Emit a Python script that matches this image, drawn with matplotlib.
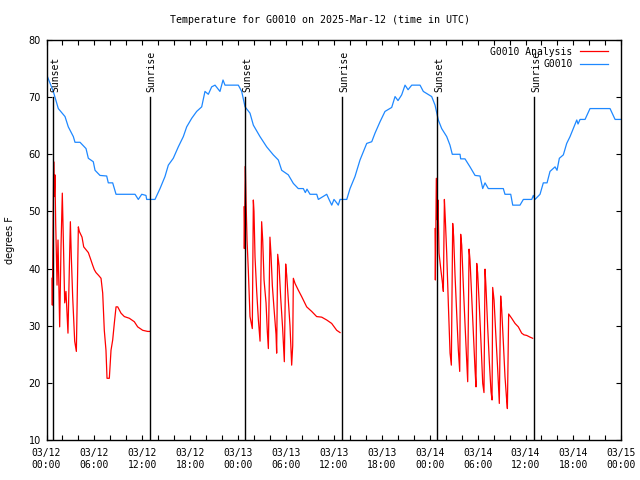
import matplotlib
matplotlib.use("Agg")
import matplotlib.pyplot as plt
import numpy as np

# ---- data (hours since 03/12 00:00 UTC) ----
obs_hours = [0.0, 0.85, 1.48, 2.32, 2.73, 3.36, 3.57, 4.20, 4.95, 5.24, 5.86, 6.08, 6.70, 7.54, 7.74,
             8.29, 8.71, 11.09, 11.50, 11.93, 12.46, 12.55, 13.59, 14.22, 14.84, 15.26, 15.88, 16.51,
             17.14, 17.56, 18.19, 18.81, 19.44, 19.85, 20.27, 20.69, 21.11, 21.73, 22.11, 22.36, 24.03,
             24.45, 24.87, 25.49, 25.91, 26.74, 27.58, 28.41, 29.04, 29.46, 30.29, 30.92, 31.54, 32.17,
             32.42, 32.63, 33.01, 33.85, 34.05, 35.10, 35.39, 35.73, 36.01, 36.35, 36.55, 36.77, 37.61,
             38.02, 38.64, 39.27, 40.11, 40.74, 41.15, 41.78, 42.40, 43.24, 43.66, 44.03, 44.49, 44.91,
             45.29, 45.75, 46.79, 47.20, 48.25, 48.67, 49.08, 49.50, 50.13, 50.54, 50.83, 51.80, 51.88,
             52.42, 53.05, 53.68, 54.30, 54.64, 54.93, 55.34, 57.22, 57.43, 58.15, 58.40, 59.31, 59.73,
             60.78, 60.98, 61.19, 61.82, 62.23, 62.70, 63.07, 63.70, 63.95, 64.24, 64.74, 65.16, 65.58,
             65.99, 66.42, 66.58, 66.83, 67.46, 68.08, 70.59, 71.22, 72.0]
obs_temp = [74.0, 71.0, 68.0, 66.6, 64.8, 63.1, 62.1, 62.1, 61.0, 59.3, 58.7, 57.2, 56.3, 56.2, 55.0,
            55.0, 53.0, 53.0, 52.1, 53.0, 52.8, 52.1, 52.1, 54.0, 56.1, 58.1, 59.3, 61.3,
            63.1, 64.8, 66.3, 67.5, 68.3, 71.0, 70.5, 71.8, 72.1, 71.0, 73.0, 72.1, 72.1,
            71.0, 68.3, 67.2, 65.1, 63.1, 61.3, 59.9, 59.0, 57.2, 56.4, 54.9, 54.0, 54.0,
            53.3, 53.9, 53.0, 53.0, 52.1, 53.0, 52.1, 51.1, 52.1, 51.5, 51.1, 52.1, 52.1,
            54.0, 56.1, 59.0, 61.9, 62.2, 63.7, 65.7, 67.5, 68.2, 70.1, 69.4, 70.4, 72.1,
            71.3, 72.1, 72.1, 71.0, 70.1, 68.6, 66.0, 64.5, 63.1, 61.6, 60.0, 60.0, 59.2,
            59.2, 57.8, 56.3, 56.2, 54.0, 55.0, 54.0, 54.0, 53.0, 53.0, 51.1, 51.1, 52.1,
            52.1, 52.8, 52.1, 53.0, 55.0, 55.0, 57.0, 57.8, 57.2, 59.3, 59.9, 61.9, 63.1,
            64.5, 66.0, 65.3, 66.1, 66.1, 68.0, 68.0, 66.1, 66.1]

an1_hours = [0.69, 0.73, 0.90, 0.98, 1.06, 1.15, 1.32, 1.44, 1.65, 1.82, 1.98, 2.11, 2.28, 2.44, 2.69,
             2.86, 2.99, 3.11, 3.28, 3.53, 3.74, 3.99, 4.11, 4.45, 4.66, 4.95, 5.24, 5.49, 5.78, 5.99,
             6.20, 6.53, 6.83, 7.04, 7.24, 7.45, 7.58, 7.87, 8.08, 8.29, 8.50, 8.71, 8.92, 9.33, 9.75,
             10.38, 11.00, 11.42, 12.05, 12.67, 12.97]
an1_temp = [38.3, 33.6, 58.7, 52.6, 56.4, 48.0, 37.1, 45.0, 29.8, 44.0, 53.2, 45.0, 34.0, 36.0, 28.7,
            40.0, 48.2, 42.0, 35.0, 27.3, 25.5, 47.3, 46.5, 45.5, 43.8, 43.3, 42.8, 41.8, 40.6, 39.8,
            39.3, 38.8, 38.3, 35.7, 29.2, 25.7, 20.8, 20.8, 25.7, 27.5, 30.5, 33.3, 33.3, 32.2, 31.6,
            31.3, 30.7, 29.8, 29.2, 29.0, 29.0]

an2_hours = [24.74, 24.78, 24.91, 24.99, 25.12, 25.28, 25.49, 25.78, 25.91, 25.99, 26.12, 26.33, 26.54,
             26.75, 26.95, 27.08, 27.25, 27.50, 27.66, 27.79, 27.99, 28.12, 28.29, 28.50, 28.75, 28.83,
             28.96, 29.13, 29.33, 29.58, 29.79, 29.96, 30.09, 30.29, 30.50, 30.71, 30.84, 30.92, 31.13,
             31.55, 31.96, 32.59, 33.22, 33.84, 34.47, 35.10, 35.72, 36.35, 36.77]
an2_temp = [50.8, 43.5, 57.9, 52.0, 45.0, 39.7, 31.6, 29.5, 52.0, 50.0, 42.0, 36.0, 31.0,
            27.3, 48.2, 45.0, 38.0, 34.0, 29.0, 26.0, 45.5, 42.5, 37.0, 33.0, 28.5, 25.2,
            42.5, 40.5, 35.0, 29.5, 23.7, 40.8, 38.8, 34.5, 30.0, 23.1, 26.5, 38.3, 37.4,
            36.2, 35.1, 33.3, 32.5, 31.6, 31.5, 31.0, 30.4, 29.2, 28.8]

an3_hours = [48.67, 48.71, 48.83, 48.96, 49.04, 49.17, 49.38, 49.58, 49.71, 49.84, 49.96, 50.13, 50.34,
             50.55, 50.71, 50.88, 51.00, 51.17, 51.38, 51.59, 51.76, 51.88, 52.01, 52.22, 52.42, 52.63,
             52.76, 52.93, 53.05, 53.26, 53.47, 53.68, 53.80, 53.89, 54.01, 54.22, 54.43, 54.64, 54.80,
             54.93, 55.05, 55.26, 55.47, 55.68, 55.81, 55.89, 56.06, 56.27, 56.52, 56.72, 56.89, 57.02,
             57.23, 57.43, 57.64, 57.73, 57.81, 57.89, 58.27, 58.69, 59.10, 59.52, 59.81, 60.15, 60.57,
             60.90]
an3_temp = [47.0, 38.0, 55.8, 48.5, 52.0, 42.7, 40.0, 37.7, 36.0, 52.1, 48.5, 42.7, 33.6,
            25.2, 23.1, 47.9, 45.6, 38.9, 32.2, 25.7, 22.0, 46.0, 44.1, 36.8, 30.4, 24.0,
            20.2, 43.4, 41.5, 35.1, 28.7, 22.25, 19.3, 40.9, 39.2, 33.3, 26.9, 19.9, 18.3,
            39.9, 36.8, 29.8, 23.7, 18.45, 17.0, 36.7, 34.5, 28.7, 22.25, 16.4, 35.2, 32.75,
            26.9, 21.1, 17.0, 15.5, 23.7, 32.05, 31.3, 30.4, 29.8, 28.7, 28.4, 28.3, 28.0,
            27.8]

sun_hours = [0.85, 12.97, 24.90, 37.05, 48.96, 61.10]
sun_labels = ["Sunset", "Sunrise", "Sunset", "Sunrise", "Sunset", "Sunrise"]

xtick_hours = [0, 6, 12, 18, 24, 30, 36, 42, 48, 54, 60, 66, 72]
xtick_labels = ["03/12\n00:00", "03/12\n06:00", "03/12\n12:00", "03/12\n18:00",
                "03/13\n00:00", "03/13\n06:00", "03/13\n12:00", "03/13\n18:00",
                "03/14\n00:00", "03/14\n06:00", "03/14\n12:00", "03/14\n18:00",
                "03/15\n00:00"]
ytick_vals = [10, 20, 30, 40, 50, 60, 70, 80]

title = "Temperature for G0010 on 2025-Mar-12 (time in UTC)"

# ---- figure ----
mono = "DejaVu Sans Mono"
fig = plt.figure(figsize=(6.4, 4.8), dpi=100)
ax = fig.add_axes([46.5 / 640, 40 / 480, (621.3 - 46.5) / 640, 400 / 480])

red = "#ff0000"
blue = "#1e88ff"
ax.plot(an1_hours, an1_temp, color=red, lw=0.9, label="G0010 Analysis")
ax.plot(an2_hours, an2_temp, color=red, lw=0.9)
ax.plot(an3_hours, an3_temp, color=red, lw=0.9)
ax.plot(obs_hours, obs_temp, color=blue, lw=0.9, label="G0010")

for h, lab in zip(sun_hours, sun_labels):
    ax.plot([h, h], [10, 70], color="black", lw=1.0)
    ax.text(h + 0.2, 70.9, lab, rotation=90, ha="center", va="bottom",
            fontsize=7, family=mono)

ax.set_xlim(0, 72)
ax.set_ylim(10, 80)
ax.set_xticks(xtick_hours)
ax.set_xticklabels(xtick_labels, family=mono, fontsize=7, linespacing=1.15)
ax.set_xticks(np.arange(0, 73, 2), minor=True)
ax.set_yticks(ytick_vals)
ax.set_yticklabels([str(v) for v in ytick_vals], fontsize=7)
ax.tick_params(axis="both", which="both", direction="in", top=True, right=True,
               length=3.5, width=0.8)
ax.tick_params(axis="x", which="major", pad=6)
ax.tick_params(axis="y", which="major", pad=4)
for s in ax.spines.values():
    s.set_linewidth(1.0)

ax.set_ylabel("degrees F", fontsize=7, labelpad=10)
fig.text(0.5, 1 - 20 / 480, title, ha="center", va="center", family=mono, fontsize=7.2)

leg = ax.legend(loc="upper right", bbox_to_anchor=(1 - 6 / 575, 1), frameon=False,
                prop={"family": mono, "size": 7},
                handlelength=2.9, handletextpad=0.8, markerfirst=False,
                borderaxespad=0.3, labelspacing=0.25)

fig.savefig("out.png", dpi=100)
